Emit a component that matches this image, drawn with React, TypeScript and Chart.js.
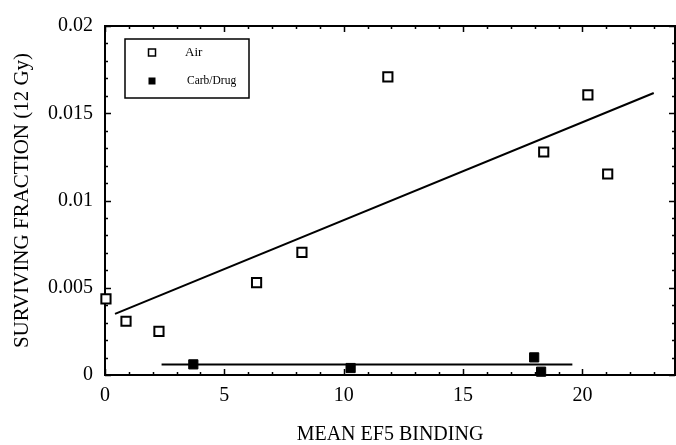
import { useEffect, useRef } from "react";
import { Chart, registerables } from "chart.js";

Chart.register(...registerables);

// Air series (open squares)
const airX = [0.04, 0.88, 2.26, 6.35, 8.25, 11.85, 18.38, 20.23, 21.06];
const airY = [0.00436, 0.00308, 0.0025, 0.00529, 0.00703, 0.01708, 0.01278, 0.01605, 0.01152];
// Carb/Drug series (filled squares)
const drugX = [3.7, 10.29, 17.98, 18.27];
const drugY = [0.00061, 0.0004, 0.00101, 0.00019];
// Fitted lines
const airFitX = [0.42, 22.99];
const airFitY = [0.0035, 0.01616];
const drugFitX = [2.37, 19.58];
const drugFitY = [0.0006, 0.0006];
// Axes
const xMin = 0;
const xMax = 23.88;
const yMin = 0;
const yMax = 0.02;
const xTicks = [0, 5, 10, 15, 20];
const yTicks = [0, 0.005, 0.01, 0.015, 0.02];
const xMinorStep = 1;
const yMinorStep = 0.001;
const legendLabels = ["Air", "Carb/Drug"];
const xTitle = "MEAN EF5 BINDING";
const yTitle = "SURVIVING FRACTION (12 Gy)";

const FONT = "'Liberation Serif', 'Times New Roman', serif";

const pts = (xs: number[], ys: number[]) => xs.map((x, i) => ({ x, y: ys[i] }));

const framePlugin = {
  id: "frameTicks",
  beforeDatasetsDraw(chart: any) {
    const { ctx, chartArea: a, scales } = chart;
    const xs = scales.x;
    const ys = scales.y;
    ctx.save();
    ctx.strokeStyle = "#000";
    ctx.lineWidth = 2;
    ctx.strokeRect(a.left, a.top, a.right - a.left, a.bottom - a.top);
    ctx.lineWidth = 1.5;
    const major = 6;
    const minor = 3;
    // x ticks (bottom and top, inward)
    for (let v = xMin; v <= xMax + 1e-9; v += xMinorStep) {
      const isMajor = xTicks.some((t) => Math.abs(t - v) < 1e-9);
      const len = isMajor ? major : minor;
      const px = Math.round(xs.getPixelForValue(v)) + 0.5;
      ctx.beginPath();
      ctx.moveTo(px, a.bottom);
      ctx.lineTo(px, a.bottom - len);
      ctx.moveTo(px, a.top);
      ctx.lineTo(px, a.top + len);
      ctx.stroke();
    }
    // y ticks (left and right, inward)
    for (let k = 0; k * yMinorStep <= yMax + 1e-12; k++) {
      const v = k * yMinorStep;
      const isMajor = yTicks.some((t) => Math.abs(t - v) < 1e-9);
      const len = isMajor ? major : minor;
      const py = Math.round(ys.getPixelForValue(v)) + 0.5;
      ctx.beginPath();
      ctx.moveTo(a.left, py);
      ctx.lineTo(a.left + len, py);
      ctx.moveTo(a.right, py);
      ctx.lineTo(a.right - len, py);
      ctx.stroke();
    }
    ctx.restore();
  },
  afterDraw(chart: any) {
    const { ctx } = chart;
    ctx.save();
    ctx.strokeStyle = "#000";
    // legend box
    const bx = 125, by = 39, bw = 124, bh = 59;
    ctx.fillStyle = "#fff";
    ctx.fillRect(bx, by, bw, bh);
    ctx.lineWidth = 1.5;
    ctx.strokeRect(bx, by, bw, bh);
    const s = 7;
    ctx.strokeRect(152 - s / 2, 52.5 - s / 2, s, s);
    ctx.fillStyle = "#000";
    ctx.fillRect(152 - s / 2, 81 - s / 2, s, s);
    ctx.font = `13px ${FONT}`;
    ctx.textBaseline = "middle";
    ctx.textAlign = "left";
    ctx.fillText(legendLabels[0], 185, 53);
    ctx.font = `11.5px ${FONT}`;
    ctx.fillText(legendLabels[1], 187, 81);
    ctx.restore();
  },
};

export default function App() {
  const ref = useRef<HTMLCanvasElement | null>(null);
  useEffect(() => {
    document.body.style.margin = "0";
    const canvas = ref.current!;
    const chart = new Chart(canvas, {
      type: "scatter",
      data: {
        datasets: [
          {
            label: legendLabels[0],
            data: pts(airX, airY),
            pointStyle: "rect",
            pointRadius: 6.5,
            pointBorderWidth: 2,
            pointBorderColor: "#000",
            pointBackgroundColor: "#fff",
            showLine: false,
            clip: false,
            order: 1,
          },
          {
            label: legendLabels[1],
            data: pts(drugX, drugY),
            pointStyle: "rect",
            pointRadius: 6.5,
            pointBorderWidth: 1,
            pointBorderColor: "#000",
            pointBackgroundColor: "#000",
            showLine: false,
            clip: false,
            order: 1,
          },
          {
            label: "Air fit",
            data: pts(airFitX, airFitY),
            showLine: true,
            borderColor: "#000",
            borderWidth: 2,
            pointRadius: 0,
            order: 2,
          },
          {
            label: "Carb/Drug fit",
            data: pts(drugFitX, drugFitY),
            showLine: true,
            borderColor: "#000",
            borderWidth: 2,
            pointRadius: 0,
            order: 2,
          },
        ],
      },
      options: {
        responsive: false,
        animation: false,
        devicePixelRatio: 1,
        layout: { autoPadding: false, padding: { top: 26, right: 1, left: 0, bottom: 0 } },
        plugins: { legend: { display: false }, tooltip: { enabled: false } },
        scales: {
          x: {
            type: "linear",
            min: xMin,
            max: xMax,
            grid: { display: false, drawTicks: false },
            border: { display: false },
            afterFit: (s: any) => {
              s.height = 70;
              s.paddingLeft = 0;
              s.paddingRight = 0;
            },
            afterBuildTicks: (s: any) => {
              s.ticks = xTicks.map((v) => ({ value: v }));
            },
            ticks: {
              color: "#000",
              padding: 9,
              maxRotation: 0,
              font: { family: FONT, size: 20 },
              callback: (v: any) => String(v),
            },
            title: {
              display: true,
              text: xTitle,
              color: "#000",
              font: { family: FONT, size: 20, lineHeight: 1 },
              padding: { top: 0, bottom: 0 },
            },
          },
          y: {
            type: "linear",
            min: yMin,
            max: yMax,
            grid: { display: false, drawTicks: false },
            border: { display: false },
            afterFit: (s: any) => {
              s.width = 105;
              s.paddingTop = 0;
              s.paddingBottom = 0;
            },
            afterBuildTicks: (s: any) => {
              s.ticks = yTicks.map((v) => ({ value: v }));
            },
            ticks: {
              color: "#000",
              padding: 12,
              font: { family: FONT, size: 20 },
              callback: (v: any) => String(parseFloat(Number(v).toFixed(4))),
            },
            title: {
              display: true,
              text: yTitle,
              color: "#000",
              font: { family: FONT, size: 21, lineHeight: 1 },
              padding: { top: 12, bottom: 0 },
            },
          },
        },
      },
      plugins: [framePlugin],
    });
    return () => chart.destroy();
  }, []);
  return (
    <div style={{ width: 676, height: 445 }}>
      <canvas ref={ref} width={676} height={445} />
    </div>
  );
}
